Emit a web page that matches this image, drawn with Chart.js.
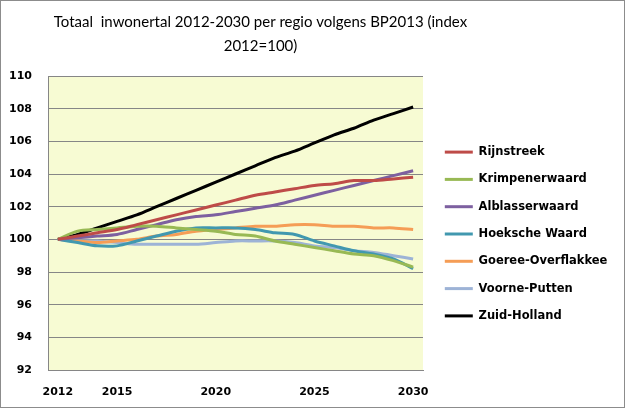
<!DOCTYPE html>
<html lang="nl">
<head>
<meta charset="UTF-8" />
<title>Totaal inwonertal 2012-2030</title>
<script src="https://cdn.jsdelivr.net/npm/chart.js"></script>
<style>
  html, body { margin: 0; padding: 0; background: #fff; }
  #wrap {
    width: 625px; height: 408px; box-sizing: border-box;
    border: 1px solid #8c8c8c; background: #fff;
  }
</style>
</head>
<body>
<div id="wrap"><canvas id="chart" width="623" height="406"></canvas></div>
<script>
// jaren (categorieen)
const years = ["2012","2013","2014","2015","2016","2017","2018","2019","2020","2021",
               "2022","2023","2024","2025","2026","2027","2028","2029","2030"];
const shownYears = ["2012","2015","2020","2025","2030"];

// index 2012=100
const rijnstreek     = [100,100.2,100.4,100.6,100.9,101.2,101.5,101.8,102.1,102.4,102.7,102.9,103.1,103.3,103.4,103.6,103.6,103.7,103.8];
const krimpenerwaard = [100,100.5,100.6,100.7,100.8,100.8,100.7,100.6,100.5,100.3,100.2,99.9,99.7,99.5,99.3,99.1,99.0,98.7,98.3];
const alblasserwaard = [100,100.1,100.2,100.3,100.6,100.9,101.2,101.4,101.5,101.7,101.9,102.1,102.4,102.7,103.0,103.3,103.6,103.9,104.2];
const hoekscheWaard  = [100,99.8,99.6,99.6,99.9,100.2,100.5,100.7,100.7,100.7,100.6,100.4,100.3,99.9,99.6,99.3,99.1,98.8,98.2];
const goeree         = [100,99.9,99.8,99.9,100.0,100.2,100.3,100.5,100.6,100.7,100.8,100.8,100.9,100.9,100.8,100.8,100.7,100.7,100.6];
const voornePutten   = [100,99.9,99.9,99.8,99.7,99.7,99.7,99.7,99.8,99.9,99.9,99.9,99.8,99.6,99.5,99.3,99.2,99.0,98.8];
const zuidHolland    = [100,100.3,100.7,101.1,101.5,102.0,102.5,103.0,103.5,104.0,104.5,105.0,105.4,105.9,106.4,106.8,107.3,107.7,108.1];

function serie(label, data, color) {
  return {
    label: label, data: data, borderColor: color, backgroundColor: color,
    borderWidth: 3, pointRadius: 0, tension: 0.3, fill: false
  };
}

// achtergrond van het plotgebied
const plotBg = {
  id: "plotBg",
  beforeDraw(chart) {
    const a = chart.chartArea, ctx = chart.ctx;
    ctx.save();
    ctx.fillStyle = "#f7fbd3";
    ctx.fillRect(a.left, a.top, a.right - a.left, a.bottom - a.top);
    ctx.restore();
  }
};

// legenda breder dan Chart.js standaard toelaat, titel en legenda zoals in Excel
const LEGEND_W = 187;
const excelLayout = {
  id: "excelLayout",
  beforeLayout(chart) {
    const lg = chart.legend;
    if (lg && !lg._wide) {
      const fit = lg.fit;
      lg.fit = function () { fit.call(this); this.width = LEGEND_W; };
      lg._wide = true;
    }
  },
  afterLayout(chart) {
    const t = chart.titleBlock;
    if (t) { t.left = 0; t.right = 519; t.width = 519; }
    const lg = chart.legend;
    if (lg) { lg.left += 6; lg.right += 6; lg.top += 30; lg.bottom += 30; }
  }
};

const tickFont = { family: "DejaVu Sans", size: 11, weight: "bold" };

new Chart(document.getElementById("chart"), {
  type: "line",
  data: {
    labels: years,
    datasets: [
      serie("Rijnstreek", rijnstreek, "#be4b48"),
      serie("Krimpenerwaard", krimpenerwaard, "#98b954"),
      serie("Alblasserwaard", alblasserwaard, "#7d60a0"),
      serie("Hoeksche Waard", hoekscheWaard, "#4198af"),
      serie("Goeree-Overflakkee", goeree, "#f59d56"),
      serie("Voorne-Putten", voornePutten, "#9db3d6"),
      serie("Zuid-Holland", zuidHolland, "#000000")
    ]
  },
  options: {
    responsive: false,
    animation: false,
    layout: { padding: { left: 0, right: 14, top: 0, bottom: 0 } },
    plugins: {
      title: {
        display: true,
        text: ["Totaal  inwonertal 2012-2030 per regio volgens BP2013 (index", "2012=100)"],
        color: "#000",
        font: { family: "Lato", size: 15, weight: "normal", lineHeight: 1.6 },
        padding: { top: 9, bottom: 18 }
      },
      legend: {
        position: "right",
        labels: {
          usePointStyle: true,
          pointStyle: "line",
          pointStyleWidth: 28,
          color: "#000",
          font: { family: "DejaVu Sans", size: 11.5, weight: "bold" },
          padding: 15.8
        }
      },
      tooltip: { enabled: false }
    },
    scales: {
      x: {
        offset: true,
        grid: { display: false, drawTicks: false },
        border: { color: "#868686", width: 1 },
        afterFit: function (s) { s.height = 37; },
        ticks: {
          autoSkip: false, maxRotation: 0, padding: 16, color: "#000", font: tickFont,
          callback: function (v) {
            const l = this.getLabelForValue(v);
            return shownYears.includes(l) ? l : "";
          }
        }
      },
      y: {
        min: 92, max: 110,
        grid: { color: "#868686", drawTicks: false },
        border: { color: "#868686", width: 1 },
        afterFit: function (s) { s.width = 47; },
        ticks: { stepSize: 2, padding: 16, color: "#000", font: tickFont }
      }
    }
  },
  plugins: [plotBg, excelLayout]
});
</script>
</body>
</html>
